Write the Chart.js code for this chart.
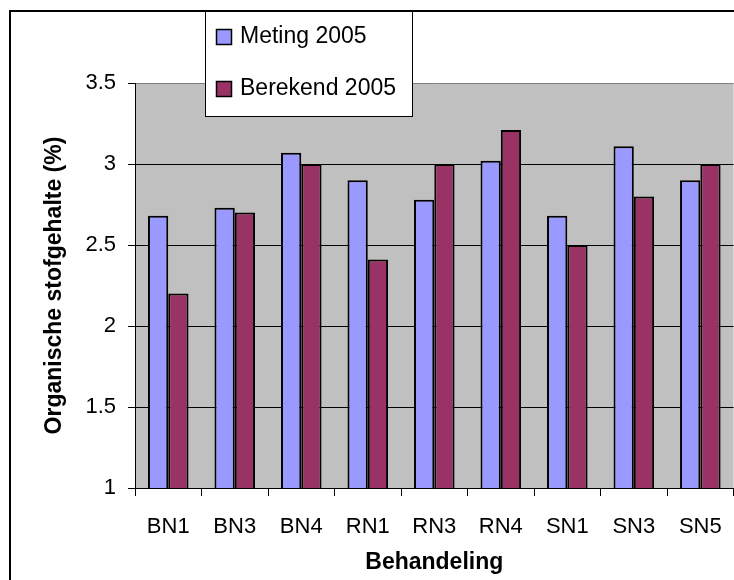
<!DOCTYPE html>
<html>
<head>
<meta charset="utf-8">
<script src="https://cdn.jsdelivr.net/npm/chart.js@4.4.1/dist/chart.umd.min.js"></script>
<style>
  html, body { margin: 0; padding: 0; background: #fff; overflow: hidden; }
  #wrap { position: relative; width: 740px; height: 580px; }
</style>
</head>
<body>
<div id="wrap"><canvas id="orgChart"></canvas></div>
<script>
// waarden
const categories = ['BN1', 'BN3', 'BN4', 'RN1', 'RN3', 'RN4', 'SN1', 'SN3', 'SN5'];
const meting2005 = [2.68, 2.73, 3.07, 2.90, 2.78, 3.02, 2.68, 3.11, 2.90];
const berekend2005 = [2.20, 2.70, 3.00, 2.41, 3.00, 3.21, 2.50, 2.80, 3.00];
const seriesNames = ['Meting 2005', 'Berekend 2005'];
const yTicks = [1, 1.5, 2, 2.5, 3, 3.5];

const FONT = "'Liberation Sans', Arial, sans-serif";

// grijze achtergrond van het plotgebied
const plotBackground = {
  id: 'plotBackground',
  beforeDraw(chart) {
    const { ctx, chartArea: a } = chart;
    ctx.save();
    ctx.fillStyle = '#c0c0c0';
    ctx.fillRect(a.left, a.top, a.right - a.left, a.bottom - a.top);
    ctx.restore();
  }
};

// legenda-kader over de grafiek + buitenrand
const frameAndLegend = {
  id: 'frameAndLegend',
  afterDraw(chart) {
    const ctx = chart.ctx;
    ctx.save();
    ctx.fillStyle = '#fff';
    ctx.fillRect(205, 11, 208, 106);
    ctx.strokeStyle = '#000';
    ctx.lineWidth = 1;
    ctx.strokeRect(205.5, 11.5, 207, 105);

    ctx.font = '23px ' + FONT;
    ctx.textBaseline = 'alphabetic';
    chart.data.datasets.forEach((ds, i) => {
      const y = 29 + i * 52;
      ctx.fillStyle = ds.backgroundColor;
      ctx.fillRect(216.5, y + 0.5, 15, 15);
      ctx.strokeStyle = '#000';
      ctx.lineWidth = 1.5;
      ctx.strokeRect(216.5, y + 0.5, 15, 15);
      ctx.fillStyle = '#000';
      ctx.fillText(ds.label, 240, y + 14);
    });

    ctx.lineWidth = 2;
    ctx.strokeRect(10, 11, 800, 700);
    ctx.restore();
  }
};

const ctx = document.getElementById('orgChart').getContext('2d');
const chart = new Chart(ctx, {
  type: 'bar',
  data: {
    labels: categories,
    datasets: [
      {
        label: seriesNames[0],
        data: meting2005,
        backgroundColor: '#9999ff',
        borderColor: '#000',
        borderWidth: 2,
        borderSkipped: false
      },
      {
        label: seriesNames[1],
        data: berekend2005,
        backgroundColor: '#993366',
        borderColor: '#000',
        borderWidth: 2,
        borderSkipped: false
      }
    ]
  },
  options: {
    responsive: true,
    maintainAspectRatio: false,
    animation: false,
    layout: { padding: { top: 83, right: 5, bottom: 0, left: 0 } },
    datasets: { bar: { categoryPercentage: 0.61, barPercentage: 1 } },
    plugins: {
      legend: { display: false },
      tooltip: { enabled: false }
    },
    scales: {
      x: {
        grid: {
          display: true,
          offset: true,
          drawOnChartArea: false,
          drawTicks: true,
          tickLength: 8,
          color: '#000'
        },
        border: { display: true, color: '#000', width: 1 },
        ticks: {
          color: '#000',
          font: { family: FONT, size: 22 },
          padding: 18,
          maxRotation: 0,
          autoSkip: false
        },
        title: {
          display: true,
          text: 'Behandeling',
          color: '#000',
          font: { family: FONT, size: 23, weight: 'bold' },
          padding: { top: 0, bottom: 4 }
        },
        afterFit(scale) { scale.height = 92; }
      },
      y: {
        min: 1,
        max: 3.5,
        afterBuildTicks(scale) { scale.ticks = yTicks.map(v => ({ value: v })); },
        grid: {
          color: c => (c.tick && c.tick.value === 3.5 ? '#808080' : '#000'),
          tickColor: '#000',
          tickLength: 7,
          drawTicks: true
        },
        border: { display: true, color: '#000', width: 1 },
        ticks: {
          color: '#000',
          font: { family: FONT, size: 22 },
          padding: 12,
          callback: v => String(v)
        },
        title: {
          display: true,
          text: 'Organische stofgehalte (%)',
          color: '#000',
          font: { family: FONT, size: 23, weight: 'bold' },
          padding: { top: 41, bottom: 0 }
        },
        afterFit(scale) { scale.width = 135; }
      }
    }
  },
  plugins: [plotBackground, frameAndLegend]
});
</script>
</body>
</html>
